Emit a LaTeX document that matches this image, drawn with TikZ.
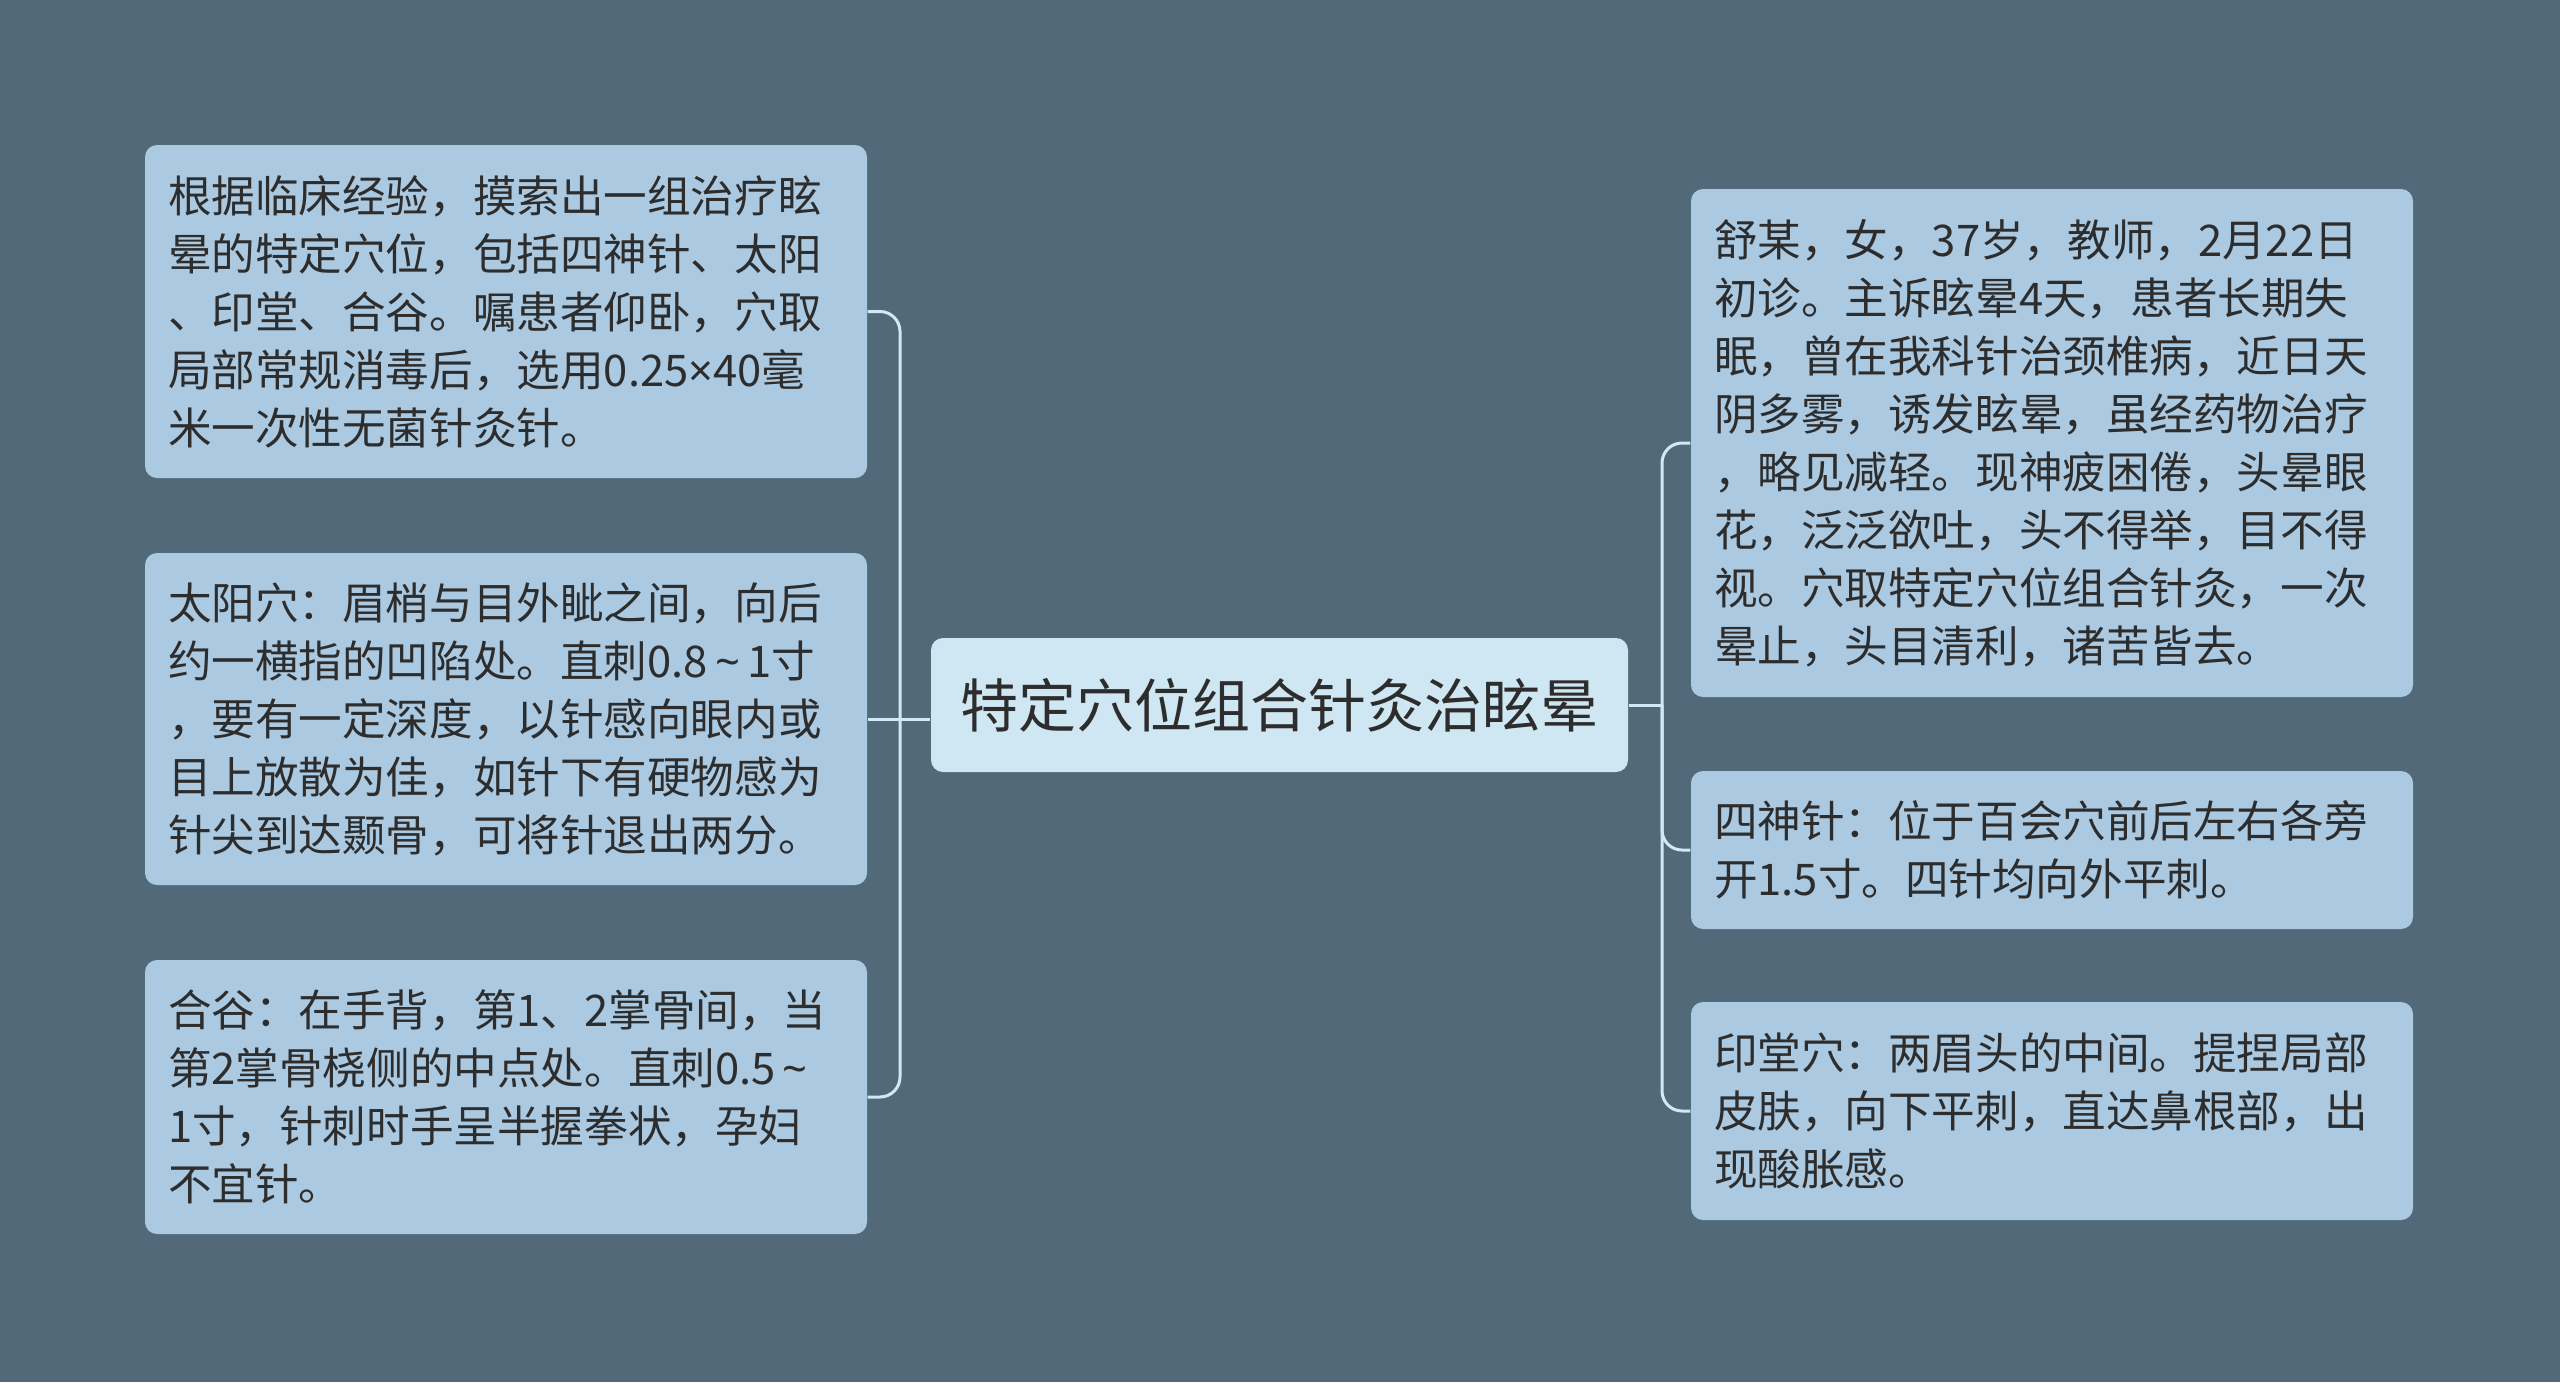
\documentclass[tikz,border=0pt]{standalone}
\usepackage{fontspec}
\newfontfamily\cjk{Noto Sans CJK SC}
\newfontfamily\latin{Noto Sans}
\usepackage{tikz}
\usetikzlibrary{positioning}
\definecolor{bg}{RGB}{81,105,121}
\definecolor{leaffill}{RGB}{171,201,225}
\definecolor{rootfill}{RGB}{207,230,243}
\definecolor{wire}{RGB}{210,232,245}
\definecolor{ink}{RGB}{45,45,45}
\newcommand{\tld}{\,{\latin\char"007E}\,}
\newcommand{\tms}{{\latin\char"00D7}}
\tikzset{
  leaf/.style={rectangle,rounded corners=0.12cm,fill=leaffill,draw=none,
    text width=6.76cm,minimum width=7.22cm,inner xsep=0.23cm,inner ysep=0pt,
    align=left,text=ink,font=\cjk\fontsize{12.4}{16.5}\selectfont},
  topic/.style={rectangle,rounded corners=0.12cm,fill=rootfill,draw=none,
    minimum width=6.97cm,minimum height=1.34cm,inner sep=0pt,
    text=ink,font=\cjk\fontsize{16.5}{20}\selectfont},
  wire/.style={draw=wire,line width=0.03cm,rounded corners=0.2cm}
}

\begin{document}
\begin{tikzpicture}
  \fill[bg] (0,0) rectangle (25.6,-13.82);
  \useasboundingbox (0,0) rectangle (25.6,-13.82);

  \node[topic] (root) at (12.795,-7.05) {特定穴位组合针灸治眩晕};

  % left branches
  \node[leaf,minimum height=3.33cm] (left1) at (5.06,-3.115)
    {根据临床经验，摸索出一组治疗眩\\晕的特定穴位，包括四神针、太阳\\、印堂、合谷。嘱患者仰卧，穴取\\局部常规消毒后，选用0.25\tms40毫\\米一次性无菌针灸针。};
  \node[leaf,minimum height=3.32cm] (left2) at (5.06,-7.19)
    {太阳穴：眉梢与目外眦之间，向后\\约一横指的凹陷处。直刺0.8\tld1寸\\，要有一定深度，以针感向眼内或\\目上放散为佳，如针下有硬物感为\\针尖到达颞骨，可将针退出两分。};
  \node[leaf,minimum height=2.74cm] (left3) at (5.06,-10.97)
    {合谷：在手背，第1、2掌骨间，当\\第2掌骨桡侧的中点处。直刺0.5\tld\\1寸，针刺时手呈半握拳状，孕妇\\不宜针。};

  % right branches
  \node[leaf,minimum height=5.08cm] (right1) at (20.52,-4.43)
    {舒某，女，37岁，教师，2月22日\\初诊。主诉眩晕4天，患者长期失\\眠，曾在我科针治颈椎病，近日天\\阴多雾，诱发眩晕，虽经药物治疗\\，略见减轻。现神疲困倦，头晕眼\\花，泛泛欲吐，头不得举，目不得\\视。穴取特定穴位组合针灸，一次\\晕止，头目清利，诸苦皆去。};
  \node[leaf,minimum height=1.58cm] (right2) at (20.52,-8.50)
    {四神针：位于百会穴前后左右各旁\\开1.5寸。四针均向外平刺。};
  \node[leaf,minimum height=2.18cm] (right3) at (20.52,-11.11)
    {印堂穴：两眉头的中间。提捏局部\\皮肤，向下平刺，直达鼻根部，出\\现酸胀感。};

  \coordinate (lbus) at (9.00,-7.19);
  \coordinate (rbus) at (16.62,-7.05);

  \draw[wire] (root.west |- left2.east) -- (left2.east);
  \draw[wire] (lbus) |- (left1.east);
  \draw[wire] (lbus) |- (left3.east);

  \draw[wire] (root.east) -- (rbus);
  \draw[wire] (rbus) |- (right1.west);
  \draw[wire] (rbus) |- (right2.west);
  \draw[wire] (rbus) |- (right3.west);
\end{tikzpicture}
\end{document}
